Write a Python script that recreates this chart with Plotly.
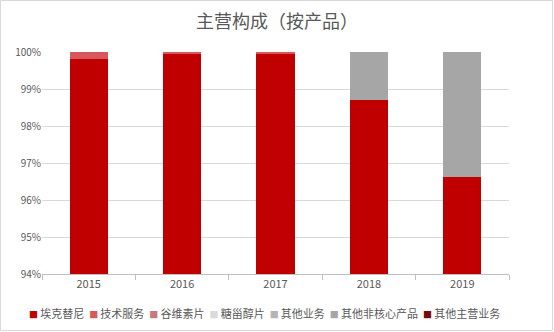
import plotly.graph_objects as go

years = ["2015", "2016", "2017", "2018", "2019"]
series_names = ["埃克替尼", "技术服务", "谷维素片", "糖甾醇片", "其他业务", "其他非核心产品", "其他主营业务"]
values = {
    "埃克替尼":     [0.9981, 0.9997, 0.9997, 0.9870, 0.9663],
    "技术服务":     [0.0019, 0.0003, 0.0003, 0.0000, 0.0000],
    "谷维素片":     [0.0000, 0.0000, 0.0000, 0.0000, 0.0000],
    "糖甾醇片":     [0.0000, 0.0000, 0.0000, 0.0000, 0.0000],
    "其他业务":     [0.0000, 0.0000, 0.0000, 0.0000, 0.0000],
    "其他非核心产品": [0.0000, 0.0000, 0.0000, 0.0130, 0.0337],
    "其他主营业务":   [0.0000, 0.0000, 0.0000, 0.0000, 0.0000],
}
colors = ["#C00000", "#D7585C", "#C47B7E", "#D9D9D9", "#B4B4B4", "#A6A6A6", "#7A0A0A"]

FONT = "Noto Sans CJK SC"
fig = go.Figure()
for name, c in zip(series_names, colors):
    fig.add_trace(go.Bar(x=years, y=values[name], name=name, marker_color=c,
                         marker_line_width=0, showlegend=False))

W, H = 554, 332
ml, mr, mt, mb = 42, 45, 52, 58
pw, ph = W - ml - mr, H - mt - mb

legend_text = "&nbsp;&nbsp;".join(
    f"<span style='color:{c};font-size:9px'>■</span>&#8201;{n}" for n, c in zip(series_names, colors)
)

fig.update_layout(
    width=W, height=H, barmode="stack", bargap=0.59, showlegend=False,
    margin=dict(l=ml, r=mr, t=mt, b=mb),
    paper_bgcolor="white", plot_bgcolor="white",
    font=dict(family=FONT, color="#595959", size=10),
    title=dict(text="主营构成（按产品）", x=0.5, xanchor="center", y=1 - 22 / H, yanchor="middle",
               font=dict(family=FONT, size=18, color="#595959")),
    annotations=[dict(text=legend_text, xref="paper", yref="paper",
                      x=(264 - ml) / pw, xanchor="center",
                      y=-(313 - (mt + ph)) / ph, yanchor="middle", showarrow=False,
                      font=dict(family=FONT, size=11, color="#595959"))],
    xaxis=dict(type="category", showline=True, linecolor="#BFBFBF", linewidth=1,
               ticks="outside", tickson="boundaries", ticklen=5, tickcolor="#BFBFBF",
               tickfont=dict(size=11, color="#595959"), showgrid=False),
    yaxis=dict(range=[0.94, 1.0], tickformat=".0%", dtick=0.01, showgrid=True,
               gridcolor="#D9D9D9", gridwidth=1, zeroline=False, showline=False,
               ticks="", tickfont=dict(size=10, color="#595959")),
    shapes=[dict(type="rect", xref="paper", yref="paper",
                 x0=-(ml - 0.5) / pw, x1=1 + (mr - 1.5) / pw,
                 y0=-(mb - 1.5) / ph, y1=1 + (mt - 0.5) / ph,
                 line=dict(color="#D9D9D9", width=1), layer="below")],
)
fig.write_html("out.html")
